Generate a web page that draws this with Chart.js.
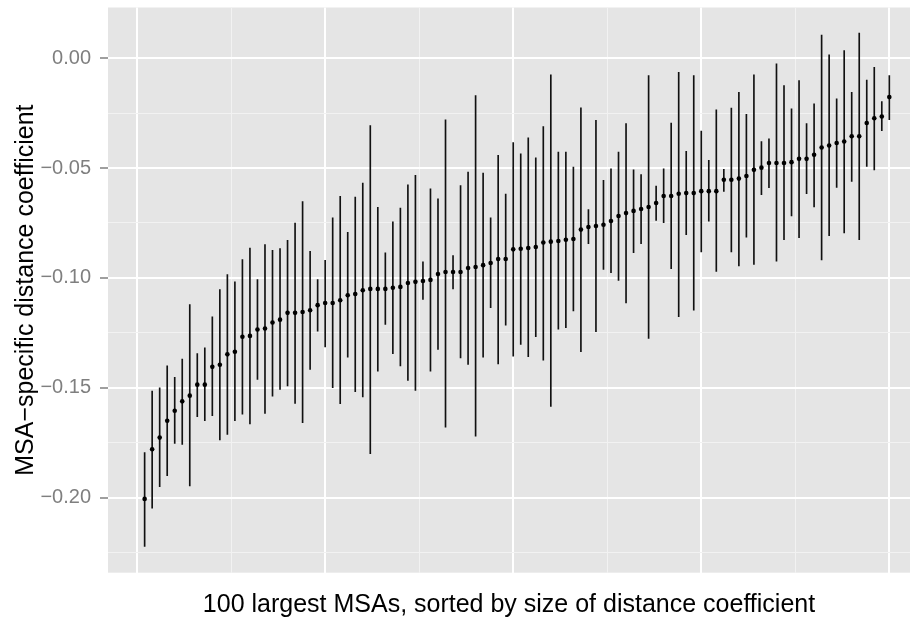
<!DOCTYPE html>
<html>
<head>
<meta charset="utf-8">
<script src="https://cdn.jsdelivr.net/npm/chart.js@4"></script>
<style>
  html, body { margin: 0; padding: 0; background: #ffffff; }
  #wrap { width: 914px; height: 620px; }
</style>
</head>
<body>
<div id="wrap"><canvas id="msa-chart" width="914" height="620"></canvas></div>
<script>
// MSA rank (1..100), sorted by estimate
const msaRank = Array.from({ length: 100 }, (_, i) => i + 1);

// point estimates
const coefEstimate = [
  -0.2006, -0.1780, -0.1727, -0.1650, -0.1605, -0.1562, -0.1536, -0.1486, -0.1486, -0.1405,
  -0.1395, -0.1348, -0.1336, -0.1268, -0.1264, -0.1235, -0.1230, -0.1203, -0.1190, -0.1159,
  -0.1159, -0.1155, -0.1147, -0.1124, -0.1114, -0.1114, -0.1102, -0.1079, -0.1073, -0.1056,
  -0.1050, -0.1050, -0.1050, -0.1045, -0.1041, -0.1023, -0.1018, -0.1014, -0.1009, -0.0982,
  -0.0973, -0.0973, -0.0973, -0.0955, -0.0950, -0.0942, -0.0932, -0.0914, -0.0914, -0.0870,
  -0.0867, -0.0864, -0.0859, -0.0839, -0.0835, -0.0832, -0.0826, -0.0823, -0.0780, -0.0768,
  -0.0764, -0.0758, -0.0741, -0.0718, -0.0705, -0.0695, -0.0686, -0.0677, -0.0659, -0.0627,
  -0.0627, -0.0617, -0.0614, -0.0614, -0.0605, -0.0605, -0.0605, -0.0553, -0.0553, -0.0548,
  -0.0536, -0.0508, -0.0498, -0.0477, -0.0477, -0.0477, -0.0473, -0.0458, -0.0458, -0.0439,
  -0.0406, -0.0397, -0.0386, -0.0379, -0.0355, -0.0355, -0.0295, -0.0273, -0.0265, -0.0177
];

const coefLower = [
  -0.2222, -0.2048, -0.1950, -0.1900, -0.1753, -0.1758, -0.1947, -0.1632, -0.1650, -0.1627,
  -0.1738, -0.1712, -0.1650, -0.1620, -0.1665, -0.1462, -0.1617, -0.1538, -0.1508, -0.1492,
  -0.1571, -0.1659, -0.1417, -0.1242, -0.1314, -0.1500, -0.1573, -0.1361, -0.1518, -0.1542,
  -0.1800, -0.1424, -0.1212, -0.1345, -0.1401, -0.1467, -0.1512, -0.1098, -0.1424, -0.1325,
  -0.1680, -0.1050, -0.1364, -0.1394, -0.1720, -0.1361, -0.1136, -0.1391, -0.1215, -0.1356,
  -0.1303, -0.1359, -0.1268, -0.1374, -0.1585, -0.1233, -0.1227, -0.1150, -0.1336, -0.0844,
  -0.1245, -0.0961, -0.0976, -0.1011, -0.1114, -0.0885, -0.0844, -0.1276, -0.0738, -0.0748,
  -0.0958, -0.1177, -0.0803, -0.1147, -0.0882, -0.0742, -0.0970, -0.0606, -0.0882, -0.0945,
  -0.0814, -0.0939, -0.0621, -0.0589, -0.0924, -0.0826, -0.0718, -0.0817, -0.0617, -0.0677,
  -0.0918, -0.0808, -0.0588, -0.0795, -0.0561, -0.0826, -0.0492, -0.0508, -0.0330, -0.0280
];

const coefUpper = [
  -0.1795, -0.1515, -0.1500, -0.1400, -0.1453, -0.1370, -0.1121, -0.1344, -0.1318, -0.1177,
  -0.1053, -0.0985, -0.1018, -0.0917, -0.0864, -0.1008, -0.0848, -0.0874, -0.0867, -0.0829,
  -0.0750, -0.0652, -0.0879, -0.1008, -0.0920, -0.0727, -0.0629, -0.0792, -0.0632, -0.0568,
  -0.0306, -0.0679, -0.0886, -0.0745, -0.0682, -0.0576, -0.0533, -0.0927, -0.0594, -0.0640,
  -0.0280, -0.0898, -0.0580, -0.0518, -0.0170, -0.0523, -0.0727, -0.0442, -0.0618, -0.0384,
  -0.0435, -0.0362, -0.0453, -0.0311, -0.0076, -0.0427, -0.0427, -0.0495, -0.0226, -0.0689,
  -0.0283, -0.0556, -0.0503, -0.0427, -0.0298, -0.0508, -0.0530, -0.0079, -0.0582, -0.0503,
  -0.0295, -0.0064, -0.0424, -0.0079, -0.0332, -0.0465, -0.0235, -0.0506, -0.0227, -0.0155,
  -0.0255, -0.0076, -0.0379, -0.0367, -0.0026, -0.0124, -0.0230, -0.0102, -0.0298, -0.0208,
   0.0105,  0.0015, -0.0185,  0.0035, -0.0155,  0.0114, -0.0099, -0.0041, -0.0197, -0.0079
];

// gridline breaks
const xBreaks = [0, 12.5, 25, 37.5, 50, 62.5, 75, 87.5, 100];
const xMajor = [0, 25, 50, 75, 100];
const yBreaks = [-0.225, -0.2, -0.175, -0.15, -0.125, -0.1, -0.075, -0.05, -0.025, 0];
const yMajor = [-0.2, -0.15, -0.1, -0.05, 0];

const isMajor = (v, list) => list.some(m => Math.abs(m - v) < 1e-9);
const tickIsMajor = (c, list) => !!(c && c.tick) && isMajor(c.tick.value, list);

Chart.defaults.font.family = "'Liberation Sans', Arial, Helvetica, sans-serif";

// grey panel like ggplot
const panelBg = {
  id: 'panelBg',
  beforeDraw(chart) {
    const { ctx, chartArea: a } = chart;
    ctx.save();
    ctx.fillStyle = '#E5E5E5';
    ctx.fillRect(a.left, a.top, a.right - a.left, a.bottom - a.top);
    ctx.restore();
  }
};

const ctx = document.getElementById('msa-chart').getContext('2d');

new Chart(ctx, {
  type: 'bar',
  data: {
    datasets: [
      {
        type: 'line',
        label: 'estimate',
        data: msaRank.map((x, i) => ({ x, y: coefEstimate[i] })),
        showLine: false,
        pointRadius: 2.3,
        pointBackgroundColor: '#000000',
        pointBorderWidth: 0,
        order: 0
      },
      {
        type: 'bar',
        label: 'interval',
        data: msaRank.map((x, i) => ({ x, y: [coefLower[i], coefUpper[i]] })),
        backgroundColor: '#111111',
        barThickness: 1,
        grouped: false,
        order: 1
      }
    ]
  },
  options: {
    responsive: false,
    animation: false,
    events: [],
    layout: { padding: { left: 0, top: 7.5, right: 4, bottom: 0 } },
    plugins: {
      legend: { display: false },
      tooltip: { enabled: false }
    },
    scales: {
      x: {
        type: 'linear',
        min: -3.87,
        max: 102.75,
        offset: false,
        afterBuildTicks: s => { s.ticks = xBreaks.map(v => ({ value: v })); },
        afterFit: s => { s.height = 47.3; s.paddingLeft = 0; s.paddingRight = 0; },
        border: { display: false },
        grid: {
          offset: false,
          drawTicks: false,
          color: c => tickIsMajor(c, xMajor) ? '#FFFFFF' : '#F2F2F2',
          lineWidth: c => tickIsMajor(c, xMajor) ? 2 : 1
        },
        ticks: { display: false },
        title: {
          display: true,
          text: '100 largest MSAs, sorted by size of distance coefficient',
          color: '#000000',
          font: { size: 25 },
          padding: { top: 0, bottom: 0 }
        }
      },
      y: {
        min: -0.2342,
        max: 0.0231,
        afterBuildTicks: s => { s.ticks = yBreaks.map(v => ({ value: v })); },
        afterFit: s => { s.width = 108; s.paddingTop = 0; s.paddingBottom = 0; },
        border: { display: false },
        grid: {
          color: c => tickIsMajor(c, yMajor) ? '#FFFFFF' : '#F2F2F2',
          lineWidth: c => tickIsMajor(c, yMajor) ? 2 : 1,
          tickColor: c => tickIsMajor(c, yMajor) ? '#7F7F7F' : 'rgba(0,0,0,0)',
          tickLength: 8,
          tickWidth: 1.5
        },
        ticks: {
          color: '#7F7F7F',
          font: { size: 20 },
          padding: 9,
          autoSkip: false,
          callback: v => isMajor(v, yMajor) ? v.toFixed(2).replace('-', '\u2212') : ''
        },
        title: {
          display: true,
          text: 'MSA\u2212specific distance coefficient',
          color: '#000000',
          font: { size: 25 },
          padding: { top: 11, bottom: 0 }
        }
      }
    }
  },
  plugins: [panelBg]
});
</script>
</body>
</html>
